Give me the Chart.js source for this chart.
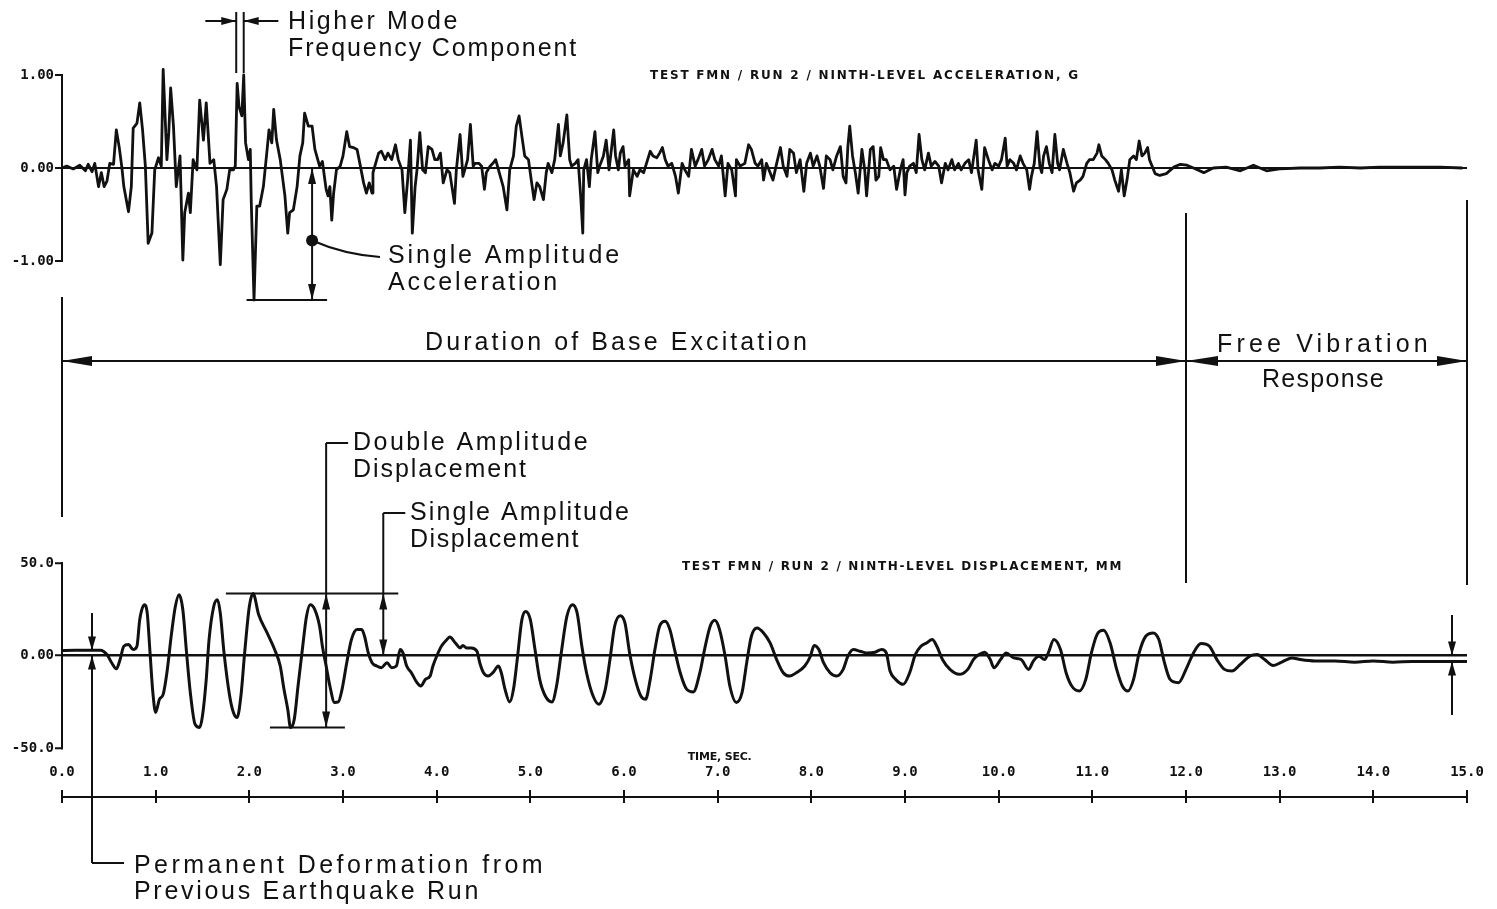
<!DOCTYPE html>
<html>
<head>
<meta charset="utf-8">
<title>Ninth-level acceleration and displacement</title>
<script src="https://cdn.jsdelivr.net/npm/chart.js@4.4.1/dist/chart.umd.min.js"></script>
<style>
  html, body { margin: 0; padding: 0; background: #fff; }
  #wrap { position: relative; width: 1497px; height: 909px; }
  #wrap canvas { position: absolute; left: 0; top: 0; }
</style>
</head>
<body>
<div id="wrap">
  <canvas id="acc" width="1497" height="909"></canvas>
  <canvas id="disp" width="1497" height="909"></canvas>
  <canvas id="time" width="1497" height="909"></canvas>
</div>
<script>
// Ninth-level acceleration, g
const accTime = [
  0.00,0.05,0.12,0.19,0.25,0.28,0.32,0.35,0.39,0.42,0.45,0.48,0.51,0.55,0.58,0.61,0.64,0.66,0.71,0.74,
  0.76,0.80,0.83,0.86,0.89,0.92,0.96,0.99,1.03,1.06,1.08,1.12,1.14,1.16,1.19,1.22,1.26,1.29,1.31,1.35,
  1.37,1.40,1.44,1.47,1.51,1.54,1.58,1.62,1.65,1.69,1.72,1.76,1.79,1.83,1.85,1.87,1.89,1.92,1.94,1.96,
  1.99,2.01,2.02,2.05,2.08,2.11,2.15,2.19,2.21,2.24,2.26,2.29,2.33,2.38,2.41,2.43,2.47,2.51,2.54,2.57,
  2.59,2.63,2.67,2.70,2.75,2.78,2.82,2.84,2.86,
  2.88,2.90,2.93,2.97,3.00,3.04,3.07,3.11,3.15,3.18,3.22,3.25,3.28,3.31,3.32,3.34,3.38,3.41,3.45,3.48,
  3.52,3.56,3.59,3.63,3.66,3.69,3.72,3.74,3.77,3.79,3.82,3.85,3.88,3.91,3.95,3.98,4.01,4.04,4.07,4.11,
  4.14,4.19,4.21,4.25,4.28,4.30,4.33,4.36,4.39,4.41,4.45,4.48,4.51,4.53,4.57,4.60,4.63,4.66,4.71,4.75,
  4.78,4.82,4.85,4.88,4.91,4.94,4.98,5.01,5.04,5.07,5.10,5.14,5.17,5.19,5.23,5.26,5.30,5.32,5.35,5.39,
  5.42,5.44,5.48,5.51,5.54,5.56,5.57,5.60,5.63,5.65,5.69,5.72,5.74,5.78,5.81,5.84,5.89,5.91,5.94,5.96,
  5.99,6.01,6.05,6.06,6.10,6.14,6.17,6.21,6.24,6.28,6.31,6.35,6.38,6.41,6.44,6.47,6.51,6.55,6.58,6.62,
  6.65,6.69,6.72,6.76,6.79,6.83,6.86,6.90,6.94,6.97,7.01,7.04,7.08,7.11,7.15,7.19,7.20,7.24,7.29,7.33,
  7.36,7.40,7.43,7.47,
  7.49,7.52,7.56,7.59,7.63,7.67,7.70,7.74,7.77,7.81,7.84,7.88,7.92,7.95,7.99,8.02,8.06,8.09,8.13,8.16,
  8.20,8.23,8.27,8.31,8.34,8.37,8.39,8.41,8.44,8.47,8.50,8.54,8.57,8.59,8.63,8.66,8.69,8.72,8.74,8.77,
  8.80,8.84,8.88,8.91,8.95,8.98,9.00,9.02,9.05,9.09,9.12,9.15,9.18,9.21,9.25,9.28,9.32,9.36,9.39,9.43,
  9.46,9.50,9.53,9.57,9.60,9.64,9.68,9.71,9.76,9.78,9.82,9.85,9.89,9.93,9.96,10.00,10.03,10.07,10.09,10.12,
  10.16,10.19,10.23,10.26,10.30,10.33,10.35,10.38,10.41,10.44,10.46,10.48,10.51,10.54,10.57,10.60,10.63,10.65,10.69,10.73,
  10.76,10.80,10.83,10.87,10.90,10.94,10.97,11.01,11.05,11.07,11.10,11.14,11.17,11.21,11.24,11.28,11.31,11.34,11.37,11.40,
  11.44,11.47,11.50,11.53,11.56,11.59,11.61,
  11.67,11.72,11.79,11.87,11.94,12.01,12.08,12.19,12.29,12.43,12.58,12.72,12.86,13.00,13.22,13.43,13.64,13.86,14.07,14.28,
  14.50,14.71,14.95
];
const accG = [
  0.00,0.02,-0.01,0.03,-0.03,0.04,-0.04,0.05,-0.20,-0.05,-0.20,-0.14,0.05,0.04,0.41,0.23,0.00,-0.20,-0.47,-0.20,
  0.43,0.48,0.70,0.41,0.02,-0.81,-0.70,-0.02,0.11,0.02,1.06,0.09,0.38,0.86,0.45,-0.20,0.13,-0.99,-0.48,-0.27,
  -0.48,0.09,-0.02,0.73,0.30,0.70,0.05,0.09,-0.20,-1.04,-0.34,-0.23,-0.02,-0.02,0.02,0.91,0.66,0.56,1.00,0.27,
  0.09,0.20,-0.34,-1.42,-0.41,-0.41,-0.20,0.20,0.41,0.27,0.63,0.30,0.09,-0.30,-0.70,-0.48,-0.45,-0.20,0.13,0.27,
  0.59,0.45,0.45,0.20,0.02,0.07,-0.23,-0.30,-0.20,
  -0.56,-0.27,-0.02,0.02,0.13,0.39,0.23,0.22,0.20,0.05,-0.16,-0.27,-0.16,-0.27,-0.05,0.02,0.16,0.18,0.09,0.16,
  0.09,0.25,0.09,-0.02,-0.48,-0.13,0.30,-0.70,-0.20,-0.02,0.38,-0.02,-0.05,0.23,0.20,0.09,0.09,0.16,-0.16,-0.02,
  -0.05,-0.38,-0.02,0.36,-0.09,-0.02,0.09,0.47,0.02,0.05,0.05,0.02,-0.23,-0.05,0.02,0.05,0.09,-0.02,-0.20,-0.45,
  -0.02,0.13,0.45,0.56,0.34,0.13,0.09,-0.13,-0.34,-0.16,-0.20,-0.34,-0.05,0.05,-0.05,0.09,0.47,0.13,0.27,0.57,
  0.09,0.02,0.05,0.09,-0.34,-0.70,-0.02,0.09,-0.20,0.09,0.39,-0.05,0.02,0.13,0.30,-0.02,0.41,0.13,-0.02,0.16,
  0.23,0.02,0.09,-0.30,-0.02,-0.09,-0.02,-0.05,0.05,0.18,0.13,0.11,0.16,0.22,0.09,0.02,0.05,-0.09,-0.27,0.05,
  -0.02,-0.09,0.20,0.02,0.09,0.20,0.02,0.09,0.20,0.09,0.02,0.13,-0.30,0.05,-0.02,-0.30,0.09,0.02,0.05,0.25,
  0.20,0.05,0.02,0.09,
  -0.13,0.05,-0.05,-0.13,0.05,0.22,0.02,-0.09,0.20,0.16,-0.05,0.09,-0.25,0.05,0.16,0.02,0.13,0.02,-0.22,0.13,
  0.09,-0.02,0.13,0.23,-0.09,-0.16,0.23,0.45,0.13,-0.05,-0.27,0.20,-0.02,-0.30,0.20,0.23,-0.13,-0.09,0.22,0.09,
  0.09,-0.02,0.02,-0.23,-0.02,0.09,-0.29,-0.05,0.02,0.05,-0.05,0.36,0.09,-0.02,0.16,0.02,0.07,0.02,-0.16,0.05,
  -0.02,0.09,-0.02,0.05,-0.02,0.05,0.09,-0.05,0.30,-0.02,-0.23,0.22,0.09,-0.02,0.05,0.02,0.09,0.32,0.02,0.09,
  0.05,-0.02,0.13,0.05,-0.02,-0.23,-0.09,0.05,0.39,0.02,-0.05,0.13,0.23,0.05,-0.05,0.36,0.05,-0.02,0.20,0.05,
  -0.05,-0.25,-0.16,-0.13,-0.09,0.05,0.09,0.09,0.16,0.25,0.13,0.09,0.05,-0.02,-0.13,-0.25,-0.02,-0.30,-0.13,0.09,
  0.13,0.09,0.29,0.13,0.16,0.22,0.09,
  -0.06,-0.08,-0.06,0.01,0.04,0.03,0.00,-0.05,0.00,0.01,-0.03,0.03,-0.03,-0.01,0.00,0.00,0.01,0.00,0.01,0.01,
  0.01,0.01,0.00
];

// Ninth-level displacement, mm
const dispTime = [
  0.00,0.41,0.48,0.53,0.58,0.62,0.66,0.71,0.76,0.80,0.83,0.88,0.91,0.94,0.97,1.00,1.04,1.08,1.12,1.17,
  1.21,1.25,1.29,1.33,1.37,1.42,1.47,1.50,1.54,1.57,1.62,1.66,1.69,1.73,1.79,1.83,1.87,1.91,1.95,2.00,
  2.04,2.10,2.19,2.27,2.33,2.37,2.41,2.44,2.48,2.52,2.57,2.61,2.65,2.70,2.75,2.78,2.82,2.86,2.91,2.95,
  2.99,3.04,3.09,3.15,3.20,3.23,3.27,3.31,3.36,3.41,3.47,3.52,3.57,3.61,3.64,3.68,3.73,3.79,3.83,3.88,
  3.93,3.96,4.00,4.05,4.11,4.14,4.20,4.25,4.28,4.32,4.37,4.43,4.46,4.50,4.55,4.60,4.66,4.69,4.73,4.78,
  4.82,4.86,4.91,4.95,5.00,5.05,5.10,5.16,5.23,5.28,5.33,5.39,5.45,5.50,5.55,5.60,5.67,5.73,5.80,5.85,
  5.90,5.96,6.01,6.06,6.12,6.18,6.23,6.28,6.33,6.38,6.44,6.49,6.54,6.60,6.67,6.74,6.81,6.86,6.92,6.97,
  7.02,7.08,7.13,7.20,7.26,7.31,7.36,7.42,7.49,7.56,7.63,7.70,7.77,7.84,7.93,7.99,8.03,8.08,8.13,8.20,
  8.27,8.34,8.39,8.45,8.52,8.59,8.68,8.75,8.80,
  8.84,8.90,8.98,9.05,9.11,9.17,9.23,9.29,9.34,9.40,9.48,9.58,9.67,9.73,9.79,9.85,9.91,9.95,10.02,10.08,
  10.16,10.24,10.32,10.37,10.43,10.49,10.53,10.59,10.66,10.72,10.78,10.86,10.93,10.99,11.05,11.12,11.19,11.26,11.32,11.38,
  11.44,11.50,11.57,11.65,11.71,11.77,11.83,11.92,12.00,12.08,12.16,12.25,12.33,12.41,12.49,12.58,12.68,12.76,12.84,12.93,
  13.01,13.13,13.22,13.38,13.59,13.80,14.00,14.21,14.41,14.62,14.83,15.00
];
const dispMM = [
  2.7,2.9,0.5,-3.9,-7.2,-2.2,5.0,5.9,3.2,5.0,19.4,27.4,22.9,1.4,-20.1,-30.8,-23.7,-21.0,-9.3,12.2,
  26.5,32.8,24.7,1.4,-20.1,-37.1,-38.9,-32.6,-12.9,8.6,26.5,30.1,22.9,1.4,-21.9,-30.8,-33.5,-21.9,1.4,26.5,
  33.5,22.0,12.2,3.2,-5.7,-18.3,-29.0,-38.9,-34.4,-16.5,5.0,21.1,27.4,24.7,15.8,5.0,-5.7,-16.5,-25.4,-25.1,
  -18.3,-3.9,8.6,14.0,14.0,10.4,1.4,-3.9,-5.7,-6.6,-3.9,-6.6,-5.7,3.2,1.4,-5.7,-9.3,-14.7,-16.5,-12.9,
  -11.1,-5.7,-0.4,5.0,8.6,10.0,6.8,4.1,5.4,4.1,4.1,2.3,-3.9,-9.3,-11.1,-9.3,-5.7,-9.3,-18.3,-25.1,
  -18.3,-2.2,19.4,23.8,19.4,3.2,-12.9,-21.9,-25.1,-16.5,1.4,21.1,27.4,22.9,5.0,-9.3,-21.9,-26.3,-18.3,-2.2,
  15.8,21.5,17.6,1.4,-12.9,-21.9,-23.7,-12.9,3.2,15.8,18.5,14.0,3.2,-9.3,-18.3,-19.7,-9.3,3.2,15.8,19.0,
  14.0,-0.4,-16.5,-25.4,-20.1,-3.9,10.4,14.9,12.2,6.8,-2.2,-9.3,-11.1,-9.3,-5.7,-0.4,5.4,3.2,-3.9,-9.3,
  -11.1,-7.5,-0.4,3.2,2.3,1.4,1.8,3.2,1.4,
  -8.4,-12.9,-15.6,-9.3,0.5,5.0,6.8,8.6,5.0,-2.2,-7.5,-10.2,-7.5,-2.2,0.5,1.8,-2.2,-6.6,-2.2,1.4,
  -1.3,-2.2,-7.5,-3.0,-0.4,-2.2,1.4,8.6,3.2,-9.3,-16.5,-19.2,-12.9,1.4,11.3,13.6,6.8,-7.5,-16.5,-19.2,
  -12.9,1.4,10.4,12.2,8.6,-3.9,-12.9,-14.7,-7.5,1.4,6.5,5.0,-2.2,-7.5,-8.4,-4.8,-0.4,0.5,-2.2,-5.4,
  -3.9,-1.3,-2.2,-3.0,-3.0,-3.6,-3.0,-3.6,-3.2,-3.2,-3.2,-3.2
];

const accTicks = [-1, 0, 1];
const dispTicks = [-50, 0, 50];
const timeTicks = [0, 1, 2, 3, 4, 5, 6, 7, 8, 9, 10, 11, 12, 13, 14, 15];

const INK = '#111';
const W = 1497, H = 909;
const LEFT = 62, RIGHT = 1467;
const ACC_TOP = 75, ACC_BOTTOM = 261;
const DISP_TOP = 563, DISP_BOTTOM = 748;
const AXIS_Y = 797;
const SPAN_Y = 361;
const TICK_FONT = { family: 'DejaVu Sans Mono', size: 14, weight: 'bold' };
const NOTE_FONT = '25px "Liberation Sans"';
const TITLE_FONT = 'bold 12px "DejaVu Sans"';
const SMALL_FONT = 'bold 11px "DejaVu Sans"';

function seg(ctx, x1, y1, x2, y2) {
  ctx.beginPath();
  ctx.moveTo(x1, y1);
  ctx.lineTo(x2, y2);
  ctx.stroke();
}

// filled arrowhead with its tip at (x, y)
function arrow(ctx, x, y, dir, len, half) {
  const d = { left: [1, 0], right: [-1, 0], up: [0, 1], down: [0, -1] }[dir];
  const bx = x + d[0] * len, by = y + d[1] * len;
  const px = -d[1] * half, py = d[0] * half;
  ctx.beginPath();
  ctx.moveTo(x, y);
  ctx.lineTo(bx + px, by + py);
  ctx.lineTo(bx - px, by - py);
  ctx.closePath();
  ctx.fill();
}

// text stretched with letter spacing to a given width
function note(ctx, text, x, y, width, font) {
  ctx.font = font || NOTE_FONT;
  ctx.letterSpacing = '0px';
  const w = ctx.measureText(text).width;
  ctx.letterSpacing = ((width - w) / text.length).toFixed(2) + 'px';
  ctx.textAlign = 'left';
  ctx.textBaseline = 'middle';
  ctx.fillText(text, x, y);
  ctx.letterSpacing = '0px';
}

function yAxis(min, max, ticks, fmt, zeroWidth) {
  return {
    type: 'linear', min, max,
    afterFit: s => { s.width = LEFT; },
    afterBuildTicks: s => { s.ticks = ticks.map(v => ({ value: v })); },
    border: { display: true, color: INK, width: 2 },
    grid: {
      color: c => (c.tick && c.tick.value === 0 ? INK : 'rgba(0,0,0,0)'),
      lineWidth: zeroWidth,
      tickColor: INK, tickWidth: 2, tickLength: 7
    },
    ticks: { color: INK, font: TICK_FONT, padding: 1, callback: fmt }
  };
}

const hiddenX = { type: 'linear', min: 0, max: 15, display: false };
const quiet = { legend: { display: false }, tooltip: { enabled: false } };

const accNotes = {
  id: 'accNotes',
  afterDraw(chart) {
    const { ctx } = chart;
    const X = t => chart.scales.x.getPixelForValue(t);
    const Y = v => chart.scales.y.getPixelForValue(v);
    ctx.save();
    ctx.strokeStyle = INK;
    ctx.fillStyle = INK;
    ctx.lineWidth = 2;

    // higher mode component marker
    const h1 = X(1.86), h2 = X(1.94);
    seg(ctx, h1, 12, h1, 73);
    seg(ctx, h2, 12, h2, 73);
    seg(ctx, X(1.53), 21, h1, 21);
    arrow(ctx, h1, 21, 'right', 15, 4);
    seg(ctx, X(2.31), 21, h2, 21);
    arrow(ctx, h2, 21, 'left', 15, 4);
    note(ctx, 'Higher Mode', 288, 22, 172);
    note(ctx, 'Frequency Component', 288, 49, 290);

    // single amplitude of acceleration
    const aMin = Math.min(...accG);
    const y0 = Y(0), yMin = Y(aMin);
    seg(ctx, X(1.97), yMin, X(2.83), yMin);
    const xa = X(2.67);
    seg(ctx, xa, y0, xa, yMin);
    arrow(ctx, xa, y0, 'up', 16, 4);
    arrow(ctx, xa, yMin, 'down', 16, 4);
    const yd = Y(-0.78);
    ctx.beginPath();
    ctx.arc(xa, yd, 6, 0, Math.PI * 2);
    ctx.fill();
    ctx.beginPath();
    ctx.moveTo(xa, yd);
    ctx.quadraticCurveTo(xa + 32, yd + 14, 380, 257);
    ctx.stroke();
    note(ctx, 'Single Amplitude', 388, 256, 234);
    note(ctx, 'Acceleration', 388, 283, 172);

    note(ctx, 'TEST FMN / RUN 2 / NINTH-LEVEL ACCELERATION, G', 650, 76, 430, TITLE_FONT);
    ctx.restore();
  }
};

const dispNotes = {
  id: 'dispNotes',
  afterDraw(chart) {
    const { ctx } = chart;
    const X = t => chart.scales.x.getPixelForValue(t);
    const Y = v => chart.scales.y.getPixelForValue(v);
    ctx.save();
    ctx.strokeStyle = INK;
    ctx.fillStyle = INK;
    ctx.lineWidth = 2;

    // duration of excitation and free vibration spans
    seg(ctx, X(0), 297, X(0), 517);
    seg(ctx, X(12), 213, X(12), 583);
    seg(ctx, X(15), 200, X(15), 585);
    seg(ctx, X(0), SPAN_Y, X(15), SPAN_Y);
    arrow(ctx, X(0), SPAN_Y, 'left', 30, 5);
    arrow(ctx, X(12), SPAN_Y, 'right', 30, 5);
    arrow(ctx, X(12), SPAN_Y, 'left', 32, 5);
    arrow(ctx, X(15), SPAN_Y, 'right', 30, 5);
    note(ctx, 'Duration of Base Excitation', 425, 343, 385);
    note(ctx, 'Free Vibration', 1217, 345, 215);
    note(ctx, 'Response', 1262, 380, 123);

    // double and single amplitude of displacement
    const dMax = Math.max(...dispMM), dMin = Math.min(...dispMM);
    seg(ctx, X(1.75), Y(dMax), X(3.59), Y(dMax));
    seg(ctx, X(2.22), Y(dMin), X(3.02), Y(dMin));
    const xd = X(2.82);
    seg(ctx, xd, 443, xd, Y(dMin));
    seg(ctx, xd, 443, xd + 22, 443);
    arrow(ctx, xd, Y(dMax), 'up', 16, 4);
    arrow(ctx, xd, Y(dMin), 'down', 16, 4);
    note(ctx, 'Double Amplitude', 353, 443, 237);
    note(ctx, 'Displacement', 353, 470, 175);

    const xs = X(3.43);
    seg(ctx, xs, 513, xs, Y(0));
    seg(ctx, xs, 513, xs + 22, 513);
    arrow(ctx, xs, Y(dMax), 'up', 16, 4);
    arrow(ctx, xs, Y(0), 'down', 16, 4);
    note(ctx, 'Single Amplitude', 410, 513, 221);
    note(ctx, 'Displacement', 410, 540, 170);

    // offset left by the previous run
    const xp = X(0.32);
    seg(ctx, xp, 613, xp, Y(dispMM[0]));
    arrow(ctx, xp, Y(dispMM[0]), 'down', 14, 4);
    seg(ctx, xp, Y(0), xp, 863);
    seg(ctx, xp, 863, 124, 863);
    arrow(ctx, xp, Y(0), 'up', 14, 4);
    note(ctx, 'Permanent Deformation from', 134, 866, 412);
    note(ctx, 'Previous Earthquake Run', 134, 892, 347);

    // residual offset at the end of the record
    const xe = X(14.84);
    const dEnd = dispMM[dispMM.length - 1];
    seg(ctx, xe, 615, xe, Y(0));
    arrow(ctx, xe, Y(0), 'down', 14, 4);
    seg(ctx, xe, 715, xe, Y(dEnd));
    arrow(ctx, xe, Y(dEnd), 'up', 14, 4);

    note(ctx, 'TEST FMN / RUN 2 / NINTH-LEVEL DISPLACEMENT, MM', 682, 567, 441, TITLE_FONT);
    ctx.restore();
  }
};

const timeNotes = {
  id: 'timeNotes',
  afterDraw(chart) {
    const { ctx } = chart;
    ctx.save();
    ctx.fillStyle = INK;
    note(ctx, 'TIME, SEC.', chart.scales.x.getPixelForValue(7) - 30, 757, 64, SMALL_FONT);
    ctx.restore();
  }
};

new Chart(document.getElementById('acc'), {
  type: 'line',
  data: {
    datasets: [{
      data: accTime.map((t, i) => ({ x: t, y: accG[i] })),
      borderColor: INK, borderWidth: 2.8, borderJoinStyle: 'round',
      pointRadius: 0, tension: 0, clip: false
    }]
  },
  options: {
    responsive: false, animation: false, events: [],
    layout: { padding: { left: 0, right: W - RIGHT, top: ACC_TOP, bottom: H - ACC_BOTTOM } },
    plugins: quiet,
    scales: {
      x: hiddenX,
      y: yAxis(-1, 1, accTicks, v => v.toFixed(2), 2)
    }
  },
  plugins: [accNotes]
});

new Chart(document.getElementById('disp'), {
  type: 'line',
  data: {
    datasets: [{
      data: dispTime.map((t, i) => ({ x: t, y: dispMM[i] })),
      borderColor: INK, borderWidth: 3, borderJoinStyle: 'round',
      pointRadius: 0, cubicInterpolationMode: 'monotone', clip: false
    }]
  },
  options: {
    responsive: false, animation: false, events: [],
    layout: { padding: { left: 0, right: W - RIGHT, top: DISP_TOP, bottom: H - DISP_BOTTOM } },
    plugins: quiet,
    scales: {
      x: hiddenX,
      y: yAxis(-50, 50, dispTicks, v => (v === 0 ? '0.00' : v.toFixed(1)), 2.5)
    }
  },
  plugins: [dispNotes]
});

new Chart(document.getElementById('time'), {
  type: 'line',
  data: { datasets: [] },
  options: {
    responsive: false, animation: false, events: [],
    layout: { padding: { left: LEFT, right: W - RIGHT, top: AXIS_Y - 40, bottom: H - AXIS_Y - 6 } },
    plugins: quiet,
    scales: {
      x: {
        type: 'linear', position: 'top', min: 0, max: 15,
        afterFit: s => { s.height = 40; },
        afterBuildTicks: s => { s.ticks = timeTicks.map(v => ({ value: v })); },
        border: { display: true, color: INK, width: 2 },
        grid: { color: INK, lineWidth: 2, tickLength: 7, drawOnChartArea: true },
        ticks: { color: INK, font: TICK_FONT, padding: 9, maxRotation: 0, autoSkip: false,
                 callback: v => v.toFixed(1) }
      },
      y: { type: 'linear', display: false, min: 0, max: 1 }
    }
  },
  plugins: [timeNotes]
});
</script>
</body>
</html>
